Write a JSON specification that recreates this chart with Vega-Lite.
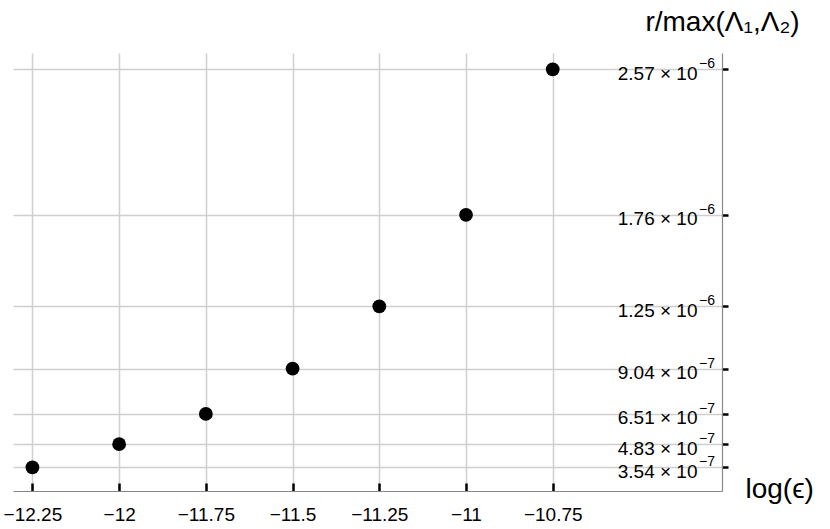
{
  "$schema": "https://vega.github.io/schema/vega-lite/v6.json",
  "autosize": {"type": "none"},
  "width": 709,
  "height": 438,
  "padding": {"left": 13, "top": 53, "right": 108, "bottom": 38},
  "background": "white",
  "config": {"view": {"stroke": null}, "font": "Liberation Sans"},
  "data": {"values": [
    {"loge": -12.25, "r": 3.54e-7},
    {"loge": -12.0, "r": 4.83e-7},
    {"loge": -11.75, "r": 6.51e-7},
    {"loge": -11.5, "r": 9.04e-7},
    {"loge": -11.25, "r": 1.25e-6},
    {"loge": -11.0, "r": 1.76e-6},
    {"loge": -10.75, "r": 2.57e-6}
  ]},
  "layer": [
    {
      "mark": {"type": "point", "filled": true, "color": "black", "opacity": 1, "size": 190},
      "encoding": {
        "x": {
          "field": "loge", "type": "quantitative",
          "scale": {"domain": [-12.306, -10.262], "nice": false, "zero": false},
          "axis": {
            "orient": "bottom",
            "values": [-12.25, -12, -11.75, -11.5, -11.25, -11, -10.75],
            "format": ".4~g",
            "title": "log(ϵ)",
            "titleFontSize": 28, "titleFontWeight": "normal", "titleColor": "black",
            "titleAlign": "left", "titleBaseline": "alphabetic",
            "titleX": 732, "titleY": 6, "titleAngle": 0,
            "domainColor": "#888888", "domainWidth": 1.2,
            "tickColor": "black", "tickWidth": 2.5, "tickSize": -8,
            "labelPadding": 22, "labelFontSize": 19, "labelColor": "black",
            "labelFlush": false,
            "grid": true, "gridColor": "#cfcfcf", "gridWidth": 1.5
          }
        },
        "y": {
          "field": "r", "type": "quantitative",
          "scale": {"domain": [2.22e-7, 2.661e-6], "nice": false, "zero": false},
          "axis": {
            "orient": "right",
            "values": [3.54e-7, 4.83e-7, 6.51e-7, 9.04e-7, 1.25e-6, 1.76e-6, 2.57e-6],
            "labelExpr": "format(datum.value / pow(10, floor(log(datum.value) / LN10)), '.2f') + ' × 10'",
            "title": "r/max(Λ₁,Λ₂)",
            "titleFontSize": 28, "titleFontWeight": "normal", "titleColor": "black",
            "titleAngle": 0, "titleAlign": "center", "titleBaseline": "middle",
            "titleX": 0, "titleY": -31,
            "domainColor": "#888888", "domainWidth": 1.2,
            "tickColor": "black", "tickWidth": 2.5, "tickSize": 6,
            "labelAlign": "right", "labelBaseline": "middle", "labelPadding": -31,
            "labelFontSize": 19, "labelColor": "black", "labelFlush": false, "labelOverlap": false,
            "labelOffset": 4,
            "grid": true, "gridColor": "#cfcfcf", "gridWidth": 1.5
          }
        }
      }
    },
    {
      "transform": [{"calculate": "datum.r < 1e-6 ? '−7' : '−6'", "as": "expo"}],
      "mark": {"type": "text", "align": "left", "baseline": "middle", "dx": -23, "dy": -5, "fontSize": 14, "color": "black"},
      "encoding": {
        "x": {"datum": -10.262, "type": "quantitative"},
        "y": {"field": "r", "type": "quantitative"},
        "text": {"field": "expo"}
      }
    }
  ]
}
